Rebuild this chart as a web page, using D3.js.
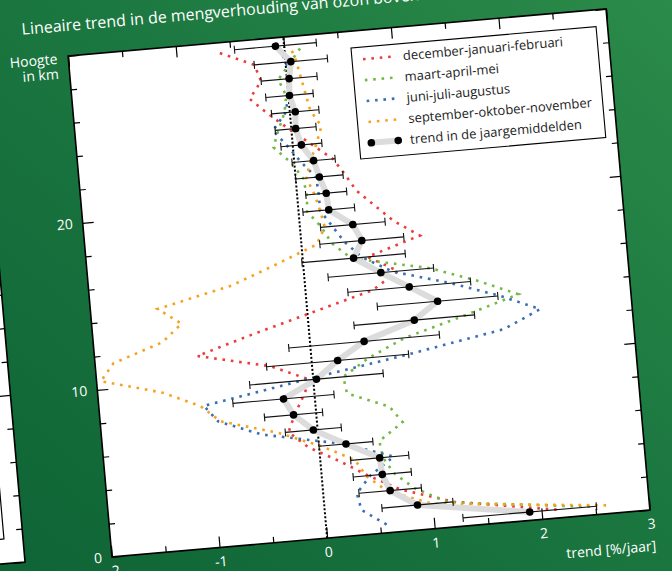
<!DOCTYPE html>
<html lang="nl">
<head>
<meta charset="UTF-8">
<title>Lineaire trend in de mengverhouding van ozon</title>
<script src="https://cdn.jsdelivr.net/npm/d3@7"></script>
<style>
  body { margin: 0; background: #1a7a40; }
  svg { display: block; font-family: "Open Sans", sans-serif; }
</style>
</head>
<body>
<svg id="chart" width="672" height="571"></svg>
<script>
// hoogte van de lagen (km)
var heights = [0.5, 1.5, 2.5, 3.5, 4.5, 5.5, 6.5, 7.5, 8.5, 9.5,
               10.5, 11.5, 12.5, 13.5, 14.5, 15.5, 16.5, 17.5, 18.5, 19.5,
               20.5, 21.5, 22.5, 23.5, 24.5, 25.5, 26.5, 27.5, 28.5, 29.5];

// trend in de jaargemiddelden [%/jaar] en foutmarge
var trend = [1.89, 0.86, 0.62, 0.56, 0.55, 0.25, -0.04, -0.21, -0.29, 0.03,
             0.24, 0.50, 0.98, 1.21, 0.96, 0.71, 0.47, 0.56, 0.49, 0.28,
             0.27, 0.22, 0.18, 0.08, 0.04, 0.05, 0.01, 0.02, 0.05, -0.08];
var trendErr = [0.62, 0.33, 0.29, 0.27, 0.27, 0.25, 0.26, 0.27, 0.47, 0.62,
                0.66, 0.70, 0.56, 0.56, 0.57, 0.49, 0.48, 0.39, 0.30, 0.24,
                0.19, 0.22, 0.20, 0.19, 0.19, 0.22, 0.22, 0.26, 0.34, 0.38];

// seizoenstrends
var djf = [2.14, 1.20, 0.72, 0.43, 0.18, -0.10, -0.27, -0.20, -0.11, -0.03,
           -0.38, -1.05, -0.52, 0.05, 0.62, 0.87, 0.60, 1.10, 0.87, 0.71,
           0.55, 0.46, 0.36, 0.17, -0.02, -0.20, -0.36, -0.24, -0.29, -0.64];
var mam = [2.45, 1.15, 0.85, 0.67, 0.58, 0.56, 0.79, 0.68, 0.30, 0.28,
           0.53, 0.88, 1.44, 1.96, 1.60, 1.17, 0.45, 0.28, 0.20, 0.08,
           0.09, 0.07, -0.03, -0.18, -0.12, -0.05, -0.02, -0.08, 0.05, 0.18];
var jja = [0.56, 0.34, 0.31, 0.45, 0.68, 0.24, -0.52, -0.91, -1.03, -0.10,
           0.90, 1.80, 2.15, 1.79, 1.35, 0.82, 0.55, 0.40, 0.30, 0.20,
           0.20, 0.19, 0.06, -0.05, -0.17, -0.04, 0.00, 0.04, 0.00, -0.05];
var son = [2.60, 1.00, 0.59, 0.41, 0.32, 0.02, -0.36, -0.89, -1.06, -1.40,
           -1.96, -1.83, -1.36, -1.17, -1.38, -0.68, -0.26, 0.14, 0.23, 0.20,
           0.16, 0.10, 0.15, 0.22, 0.28, 0.19, 0.16, 0.13, 0.10, 0.05];

var seasonNames = ["december-januari-februari", "maart-april-mei",
                   "juni-juli-augustus", "september-oktober-november"];
var seasonColors = ["#ee3b3b", "#73b944", "#3a6fb2", "#f5a21e"];
var trendName = "trend in de jaargemiddelden";

var xMajor = [-2, -1, 0, 1, 2, 3];
var xMinor = [-1.5, -0.5, 0.5, 1.5, 2.5];
var yMajor = [0, 10, 20, 30];
var yMinor = [2, 4, 6, 8, 12, 14, 16, 18, 22, 24, 26, 28];
var yLabels = [0, 10, 20];

var W = 540, H = 503;

var svg = d3.select("#chart");

var grad = svg.append("defs").append("linearGradient")
  .attr("id", "bg").attr("x1", 0).attr("y1", 1).attr("x2", 1).attr("y2", 0);
grad.append("stop").attr("offset", 0).attr("stop-color", "#0f6435");
grad.append("stop").attr("offset", 0.55).attr("stop-color", "#1b7740");
grad.append("stop").attr("offset", 1).attr("stop-color", "#2b8b49");
svg.append("rect").attr("width", 672).attr("height", 571).attr("fill", "url(#bg)");

// alles staat een beetje scheef
var g = svg.append("g").attr("transform", "translate(68.1,55.9) rotate(-5)");

var x = d3.scaleLinear().domain([-2, 3]).range([0, W]);
var y = d3.scaleLinear().domain([0, 30]).range([H, 0]);

// vorige grafiek, half zichtbaar links
var back = g.append("g").attr("transform", "translate(-87,-2.6)");
back.append("rect").attr("x", -700).attr("y", -300).attr("width", 700).attr("height", H + 300)
  .attr("fill", "#fff");
back.append("path").attr("d", "M-19,-300V478.2H-700")
  .attr("fill", "none").attr("stroke", "#000").attr("stroke-width", 1.2);
back.append("g").call(d3.axisRight(y).tickValues(yMajor).tickSize(-11).tickFormat(""));
back.append("g").call(d3.axisRight(y).tickValues(yMinor).tickSize(-6).tickFormat(""));
back.append("path").attr("d", "M-700," + H + "H0V-300")
  .attr("fill", "none").attr("stroke", "#000").attr("stroke-width", 1.6);

// plotvlak
g.append("rect").attr("width", W).attr("height", H).attr("fill", "#fff");

function ticks(axis, vals, size, pos) {
  var a = g.append("g").attr("transform", pos)
    .call(axis.tickValues(vals).tickSize(size).tickFormat(""));
  return a;
}
ticks(d3.axisTop(x), xMajor, -11, "translate(0,0)");
ticks(d3.axisTop(x), xMinor, -6, "translate(0,0)");
ticks(d3.axisBottom(x), xMinor, -6, "translate(0," + H + ")");
ticks(d3.axisRight(y), yMajor, -11, "translate(" + W + ",0)");
ticks(d3.axisRight(y), yMinor, -6, "translate(" + W + ",0)");
ticks(d3.axisLeft(y), yMinor, -6, "translate(0,0)");

var xAxis = g.append("g").attr("transform", "translate(0," + H + ")")
  .call(d3.axisBottom(x).tickValues(xMajor).tickSize(-11).tickPadding(9)
    .tickFormat(function(d) { return String(d); }));
var yAxis = g.append("g")
  .call(d3.axisLeft(y).tickValues(yMajor).tickSize(-11).tickPadding(10)
    .tickFormat(function(d) { return yLabels.indexOf(d) >= 0 ? String(d) : ""; }));
g.selectAll(".domain").remove();
g.selectAll(".tick line").attr("stroke", "#000").attr("stroke-width", 1.2);
[xAxis, yAxis].forEach(function(a) {
  a.selectAll("text").attr("fill", "#fff").attr("font-size", 14)
    .attr("font-family", "Open Sans, sans-serif");
});

// nullijn
g.append("line")
  .attr("x1", x(0)).attr("x2", x(0)).attr("y1", y(0)).attr("y2", y(30))
  .attr("stroke", "#000").attr("stroke-width", 2).attr("stroke-dasharray", "2,2");

// seizoenen
var line = d3.line().x(function(d) { return x(d[0]); }).y(function(d) { return y(d[1]); });
[djf, mam, jja, son].forEach(function(vals, i) {
  g.append("path")
    .datum(vals.map(function(v, j) { return [v, heights[j]]; }))
    .attr("d", line)
    .attr("fill", "none")
    .attr("stroke", seasonColors[i])
    .attr("stroke-width", 2.6)
    .attr("stroke-dasharray", "2.6,5.8");
});

// jaartrend
var pts = trend.map(function(v, j) { return { v: v, h: heights[j], e: trendErr[j] }; });
g.append("path").datum(pts.map(function(d) { return [d.v, d.h]; }))
  .attr("d", line).attr("fill", "none")
  .attr("stroke", "#dcdcdc").attr("stroke-width", 6).attr("stroke-linejoin", "round");

var bars = g.append("g").selectAll("g").data(pts).enter().append("g");
bars.append("line")
  .attr("x1", function(d) { return x(d.v - d.e); })
  .attr("x2", function(d) { return x(d.v + d.e); })
  .attr("y1", function(d) { return y(d.h); })
  .attr("y2", function(d) { return y(d.h); })
  .attr("stroke", "#111").attr("stroke-width", 1.1);
[-1, 1].forEach(function(s) {
  bars.append("line")
    .attr("x1", function(d) { return x(d.v + s * d.e); })
    .attr("x2", function(d) { return x(d.v + s * d.e); })
    .attr("y1", function(d) { return y(d.h) - 4; })
    .attr("y2", function(d) { return y(d.h) + 4; })
    .attr("stroke", "#111").attr("stroke-width", 1.1);
});
bars.append("circle")
  .attr("cx", function(d) { return x(d.v); })
  .attr("cy", function(d) { return y(d.h); })
  .attr("r", 3.8).attr("fill", "#000");

// kader
g.append("rect").attr("width", W).attr("height", H)
  .attr("fill", "none").attr("stroke", "#000").attr("stroke-width", 1.6);

// legenda
var leg = g.append("g").attr("transform", "translate(282.5,16.8)");
leg.append("rect").attr("width", 246).attr("height", 111.4)
  .attr("fill", "#fff").attr("stroke", "#000").attr("stroke-width", 1.1);
seasonNames.forEach(function(name, i) {
  var cy = 12.2 + i * 21;
  leg.append("line").attr("x1", 11).attr("x2", 40).attr("y1", cy).attr("y2", cy)
    .attr("stroke", seasonColors[i]).attr("stroke-width", 2.6)
    .attr("stroke-dasharray", "2.6,5.8");
  leg.append("text").attr("x", 51).attr("y", cy).attr("dy", "0.35em")
    .attr("font-size", 13).attr("fill", "#222").text(name);
});
var ty = 12.2 + 4 * 21;
leg.append("line").attr("x1", 12).attr("x2", 39).attr("y1", ty).attr("y2", ty)
  .attr("stroke", "#dcdcdc").attr("stroke-width", 6);
[12, 39].forEach(function(cx) {
  leg.append("circle").attr("cx", cx).attr("cy", ty).attr("r", 3.8).attr("fill", "#000");
});
leg.append("text").attr("x", 51).attr("y", ty).attr("dy", "0.35em")
  .attr("font-size", 13).attr("fill", "#222").text(trendName);

// titels
g.append("text").attr("x", -44).attr("y", -25)
  .attr("font-size", 16).attr("fill", "#fff")
  .text("Lineaire trend in de mengverhouding van ozon boven De Bilt");
g.append("text").attr("x", -11).attr("y", 7).attr("text-anchor", "end")
  .attr("font-size", 14).attr("fill", "#fff").text("Hoogte");
g.append("text").attr("x", -11).attr("y", 22).attr("text-anchor", "end")
  .attr("font-size", 14).attr("fill", "#fff").text("in km");
g.append("text").attr("x", 543).attr("y", H + 41).attr("text-anchor", "end")
  .attr("font-size", 14).attr("fill", "#fff").text("trend [%/jaar]");
</script>
</body>
</html>
